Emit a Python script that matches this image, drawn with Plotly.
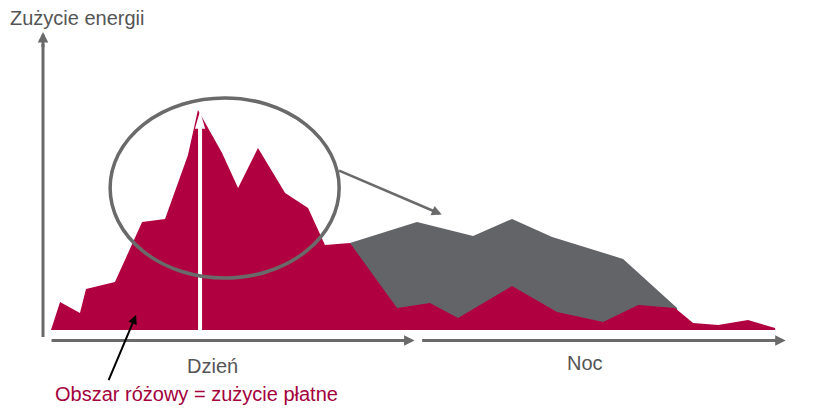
import plotly.graph_objects as go

# Paid (pink) consumption profile: hour of the 24h cycle vs relative energy use
paid_hours = [0.0, 0.30, 0.96, 1.16, 2.12, 3.02, 3.78, 4.54, 4.87, 5.67, 6.20, 6.86,
              7.76, 8.52, 9.08, 9.84, 9.91, 11.47, 12.56, 13.49, 15.28, 16.77,
              18.30, 19.46, 20.68, 21.28, 22.11, 23.10, 24.0, 24.0]
paid_values = [0.0, 12.7, 7.7, 18.6, 21.8, 49.1, 50.5, 79.5, 100.0, 80.5, 64.5, 82.7,
               62.3, 55.5, 38.6, 39.5, 39.5, 10.0, 12.3, 5.5, 20.0, 8.2,
               3.6, 11.4, 10.0, 3.2, 2.3, 4.5, 0.9, 0.0]

# Total consumption (grey area = shifted / unpaid part at night)
total_hours = [9.91, 12.13, 13.99, 15.28, 16.61, 18.96, 20.75]
total_values = [39.5, 49.1, 42.7, 50.5, 42.3, 32.3, 10.0]

period_labels = ["Dzień", "Noc"]
y_title = "Zużycie energii"
note = "Obszar różowy = zużycie płatne"

CRIMSON = "#B0003F"
GREY_AREA = "#636468"
AXIS_GREY = "#6a6a6a"
TEXT_GREY = "#555555"
FONT = "Liberation Sans, Arial, sans-serif"

fig = go.Figure()
fig.add_trace(go.Scatter(x=total_hours, y=total_values, mode="lines", fill="tozeroy",
                         fillcolor=GREY_AREA, line=dict(width=0, color=GREY_AREA),
                         hoverinfo="skip", showlegend=False))
fig.add_trace(go.Scatter(x=paid_hours, y=paid_values, mode="lines", fill="tozeroy",
                         fillcolor=CRIMSON, line=dict(width=0, color=CRIMSON),
                         hoverinfo="skip", showlegend=False))

peak_i = paid_values.index(max(paid_values))
peak_h = paid_hours[peak_i] + 0.07
peak_v = paid_values[peak_i]

shapes = []
# white arrow at the peak
shapes.append(dict(type="line", xref="x", yref="y", x0=peak_h, x1=peak_h, y0=0, y1=peak_v - 6,
                   line=dict(color="white", width=4)))
shapes.append(dict(type="path", xref="x", yref="y",
                   path=f"M {peak_h-0.17},{peak_v-8.5} L {peak_h},{peak_v-0.5} L {peak_h+0.17},{peak_v-8.5} Z",
                   fillcolor="white", line=dict(width=0)))
# ellipse around the day peak
shapes.append(dict(type="circle", xref="x", yref="y", x0=1.96, x1=9.55, y0=23.6, y1=105.5,
                   line=dict(color=AXIS_GREY, width=3.5)))
# y axis line
shapes.append(dict(type="line", xref="x", yref="y", x0=-0.265, x1=-0.265, y0=-3.2, y1=130,
                   line=dict(color=AXIS_GREY, width=3)))

annotations = []
def arrow(x, y, ax, ay, color, width, size=1.0, head=2):
    annotations.append(dict(x=x, y=y, ax=ax, ay=ay, xref="x", yref="y", axref="x", ayref="y",
                            text="", showarrow=True, arrowhead=head, arrowsize=size,
                            arrowwidth=width, arrowcolor=color, standoff=0, startstandoff=0))

arrow(-0.265, 135.5, -0.265, 128, AXIS_GREY, 3, 0.7)        # y axis head
arrow(12.05, -4.8, -0.03, -4.8, AXIS_GREY, 3, 0.7)          # day axis
arrow(24.35, -4.8, 12.25, -4.8, AXIS_GREY, 3, 0.7)          # night axis
arrow(12.95, 52.5, 9.5, 72.7, AXIS_GREY, 2.5, 0.8)          # ellipse -> grey area
arrow(2.82, 6.8, 1.89, -23.5, "black", 2, 0.9)              # note -> pink area

annotations.append(dict(x=-1.43, y=141.8, xref="x", yref="y", xanchor="left", yanchor="middle",
                        text=y_title, showarrow=False, font=dict(family=FONT, size=20, color=TEXT_GREY)))
annotations.append(dict(x=5.34, y=-16.4, xref="x", yref="y", xanchor="center", yanchor="middle",
                        text=period_labels[0], showarrow=False, font=dict(family=FONT, size=20, color=TEXT_GREY)))
annotations.append(dict(x=17.7, y=-15.2, xref="x", yref="y", xanchor="center", yanchor="middle",
                        text=period_labels[1], showarrow=False, font=dict(family=FONT, size=20, color=TEXT_GREY)))
annotations.append(dict(x=0.07, y=-29.3, xref="x", yref="y", xanchor="left", yanchor="middle",
                        text=note, showarrow=False, font=dict(family=FONT, size=20, color="#A3003C")))

fig.update_layout(
    width=818, height=411, margin=dict(l=0, r=0, t=0, b=0),
    paper_bgcolor="white", plot_bgcolor="white",
    xaxis=dict(range=[-1.690, 25.42], visible=False, fixedrange=True),
    yaxis=dict(range=[-36.82, 150.0], visible=False, fixedrange=True),
    shapes=shapes, annotations=annotations, showlegend=False,
)
fig.write_html("out.html", config={"displayModeBar": False},
               post_script="document.body.style.margin='0px';")
